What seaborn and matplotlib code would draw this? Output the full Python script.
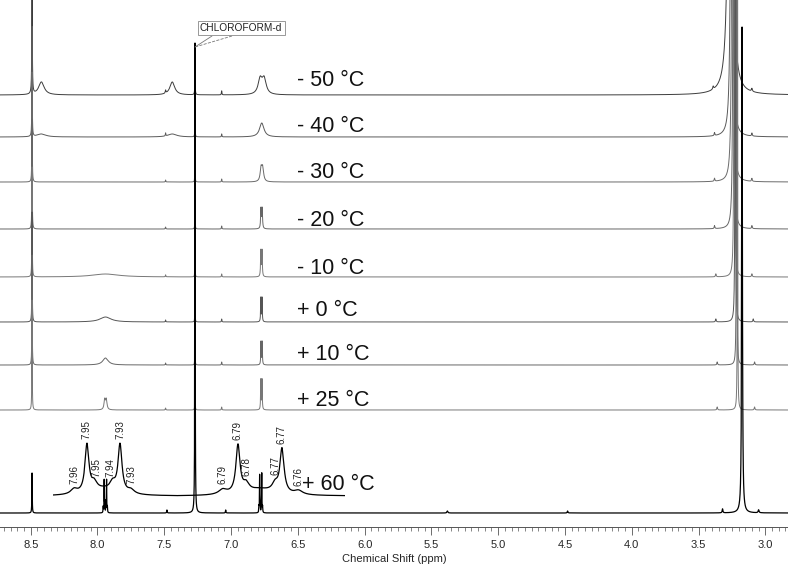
import numpy as np
import pandas as pd
import matplotlib
matplotlib.use("Agg")
import matplotlib.pyplot as plt
from matplotlib.ticker import MultipleLocator
import seaborn as sns

# ---- data ----
# temperature labels, top to bottom
temps = ['- 50 \u00b0C', '- 40 \u00b0C', '- 30 \u00b0C', '- 20 \u00b0C', '- 10 \u00b0C',
         '+ 0 \u00b0C', '+ 10 \u00b0C', '+ 25 \u00b0C', '+ 60 \u00b0C']

# peaks per trace: (ppm, height in px, half width in ppm)
peaks_m50 = [(8.49, 130, 0.002), (8.42, 13, 0.025), (7.49, 3, 0.003), (7.44, 13, 0.022),
             (7.27, 10, 0.003), (7.07, 4, 0.002), (6.782, 15, 0.018), (6.752, 15, 0.018),
             (3.39, 3, 0.004), (3.262, 1000, 0.01), (3.10, 3, 0.004)]
peaks_m40 = [(8.49, 110, 0.0015), (8.42, 3, 0.04), (7.49, 3, 0.002), (7.44, 3, 0.04),
             (7.27, 12, 0.002), (7.07, 3, 0.002), (6.77, 14, 0.02),
             (3.38, 3, 0.003), (3.252, 1000, 0.005), (3.10, 3, 0.003)]
peaks_m30 = [(8.49, 110, 0.0015), (7.49, 2, 0.002), (7.27, 12, 0.002), (7.07, 3, 0.002),
             (6.775, 13, 0.008), (6.763, 13, 0.008),
             (3.38, 3, 0.003), (3.245, 1000, 0.004), (3.10, 3, 0.003)]
peaks_m20 = [(8.49, 110, 0.0015), (7.49, 2, 0.002), (7.27, 12, 0.002), (7.07, 3, 0.002),
             (6.776, 20, 0.003), (6.767, 20, 0.003),
             (3.38, 3, 0.003), (3.238, 1000, 0.003), (3.10, 3, 0.003)]
peaks_m10 = [(8.49, 110, 0.0015), (7.94, 3, 0.12), (7.49, 2, 0.002), (7.27, 12, 0.002),
             (7.07, 3, 0.002), (6.777, 26, 0.0025), (6.768, 26, 0.0025),
             (3.37, 3, 0.003), (3.232, 1000, 0.002), (3.10, 3, 0.003)]
peaks_p0 = [(8.49, 110, 0.0015), (7.94, 5, 0.05), (7.49, 2, 0.002), (7.27, 12, 0.002),
            (7.07, 3, 0.002), (6.777, 24, 0.002), (6.768, 24, 0.002),
            (3.37, 3, 0.003), (3.225, 1000, 0.0015), (3.09, 3, 0.003)]
peaks_p10 = [(8.49, 110, 0.0015), (7.94, 7, 0.025), (7.49, 2, 0.002), (7.27, 12, 0.002),
             (7.07, 3, 0.002), (6.776, 23, 0.002), (6.767, 23, 0.002),
             (3.36, 3, 0.003), (3.215, 1000, 0.0012), (3.08, 3, 0.003)]
peaks_p25 = [(8.49, 110, 0.0015), (7.946, 10, 0.006), (7.934, 10, 0.006), (7.49, 2, 0.002),
             (7.27, 12, 0.002), (7.07, 3, 0.002), (6.777, 30, 0.002), (6.768, 30, 0.002),
             (3.36, 3, 0.003), (3.208, 1000, 0.001), (3.08, 3, 0.003)]
peaks_p60 = [(8.49, 40, 0.0015), (7.957, 6, 0.0015), (7.950, 32, 0.0012), (7.946, 10, 0.0015),
             (7.936, 10, 0.0015), (7.932, 32, 0.0012), (7.926, 6, 0.0015),
             (7.48, 3, 0.002), (7.27, 470, 0.0015), (7.04, 3, 0.002),
             (6.791, 6, 0.0015), (6.786, 36, 0.0012), (6.783, 10, 0.0015),
             (6.772, 10, 0.0015), (6.770, 36, 0.0012), (6.764, 6, 0.0015),
             (5.38, 2, 0.004), (4.48, 2, 0.003), (3.32, 4, 0.003), (3.174, 486, 0.003),
             (3.05, 3, 0.004)]
trace_peaks = [peaks_m50, peaks_m40, peaks_m30, peaks_m20, peaks_m10,
               peaks_p0, peaks_p10, peaks_p25, peaks_p60]

# expansion of the +60 trace: two multiplets
inset_left_peaks = [(7.957, 5, 0.0022), (7.950, 48, 0.0013), (7.946, 8, 0.0018),
                    (7.941, 6, 0.008), (7.936, 8, 0.0018), (7.932, 48, 0.0013),
                    (7.926, 4, 0.0022)]
inset_left_labels = ['7.96', '7.95', '7.95', '7.94', '7.93', '7.93']
inset_left_label_ppm = [7.957, 7.950, 7.945, 7.937, 7.932, 7.926]
inset_right_peaks = [(6.7915, 5, 0.0018), (6.786, 48, 0.0009), (6.783, 8, 0.0013),
                     (6.778, 6, 0.006), (6.7725, 8, 0.0013), (6.770, 44, 0.0009),
                     (6.764, 4, 0.0018)]
inset_right_labels = ['6.79', '6.79', '6.78', '6.77', '6.77', '6.76']
inset_right_label_ppm = [6.7915, 6.786, 6.783, 6.7725, 6.770, 6.764]

# ---- layout (pixels of the 788x566 picture) ----
W, H = 788, 566
AX_BOTTOM = 527
XL, XR = 8.73, 2.83
baseline_px = [95, 137, 182, 229, 277, 322, 365, 410, 513]
label_px = [80, 127, 172, 220, 268, 310, 354, 401, 484]
colors = ['#3c3c3c', '#5a5a5a', '#6a6a6a', '#666666', '#777777',
          '#555555', '#666666', '#777777', '#000000']


def px2ppm(x):
    return XL - x * (XL - XR) / W


def lorentz(x, peaks):
    y = np.zeros_like(x)
    for p, h, w in peaks:
        y += h * w ** 2 / ((x - p) ** 2 + w ** 2)
    return y


sns.set_theme(style='white')
plt.rcParams['font.family'] = ['Liberation Sans', 'DejaVu Sans']

fig = plt.figure(figsize=(W / 100, H / 100), dpi=100)
ax = fig.add_axes([0, (H - AX_BOTTOM) / H, 1, AX_BOTTOM / H])

ppm = np.linspace(XR, XL, 40000)
for i, pk in enumerate(trace_peaks):
    off = AX_BOTTOM - baseline_px[i]
    df = pd.DataFrame({'ppm': ppm, 'y': lorentz(ppm, pk) + off})
    sns.lineplot(data=df, x='ppm', y='y', ax=ax, color=colors[i],
                 lw=0.9 if i == 8 else 0.7, estimator=None, sort=False)
    ax.text(px2ppm(302 if i == 8 else 297), AX_BOTTOM - label_px[i], temps[i],
            fontsize=15.5, va='center', ha='left', color='#111111')

ax.set_xlim(XL, XR)
ax.set_ylim(0, AX_BOTTOM)
ax.set_xlabel('Chemical Shift (ppm)', fontsize=8, labelpad=3)
ax.set_ylabel('')
ax.set_yticks([])
ax.xaxis.set_major_locator(MultipleLocator(0.5))
ax.xaxis.set_minor_locator(MultipleLocator(0.05))
ax.tick_params(axis='x', which='major', direction='out', length=6, width=0.6,
               color='#555555', labelsize=8, pad=3, bottom=True)
ax.tick_params(axis='x', which='minor', direction='out', length=3, width=0.5,
               color='#555555', bottom=True)
ax.xaxis.set_major_formatter(matplotlib.ticker.FormatStrFormatter('%.1f'))
for s in ['top', 'left', 'right']:
    ax.spines[s].set_visible(False)
ax.spines['bottom'].set_color('#555555')
ax.spines['bottom'].set_linewidth(0.7)

# solvent annotation
tip = (px2ppm(195), AX_BOTTOM - 47)
ax.text(px2ppm(200), AX_BOTTOM - 28, 'CHLOROFORM-d', fontsize=7.3, va='center', ha='left',
        color='#222222',
        bbox=dict(boxstyle='square,pad=0.22', fc='white', ec='#888888', lw=0.6))
ax.plot([px2ppm(212), tip[0]], [AX_BOTTOM - 36, tip[1]], color='#777777', lw=0.6)
ax.plot([px2ppm(232), tip[0]], [AX_BOTTOM - 36, tip[1]], color='#777777', lw=0.6, ls='--')

# expansions (units of the inset y axis are pixels above its baseline)
INS_TOP, INS_BOT, INS_BASE = 400, 505, 496
for (x0, x1, lo, hi, pk, labs, lppm) in [
        (53, 178, 7.9685, 7.9004, inset_left_peaks, inset_left_labels, inset_left_label_ppm),
        (178, 345, 6.8078, 6.7471, inset_right_peaks, inset_right_labels, inset_right_label_ppm)]:
    iax = fig.add_axes([x0 / W, (H - INS_BOT) / H, (x1 - x0) / W, (INS_BOT - INS_TOP) / H])
    iax.patch.set_alpha(0)
    xs = np.linspace(hi, lo, 3000)
    sns.lineplot(x=xs, y=lorentz(xs, pk), ax=iax, color='black', lw=0.9,
                 estimator=None, sort=False)
    iax.set_xlim(lo, hi)
    iax.set_ylim(INS_BASE - INS_BOT, INS_BASE - INS_TOP)
    iax.axis('off')
    for t, p in zip(labs, lppm):
        top = lorentz(np.array([p]), pk)[0]
        iax.text(p, top + 4, t, rotation=90, fontsize=7, ha='center', va='bottom',
                 color='#222222')

fig.savefig('out.png', dpi=100)
